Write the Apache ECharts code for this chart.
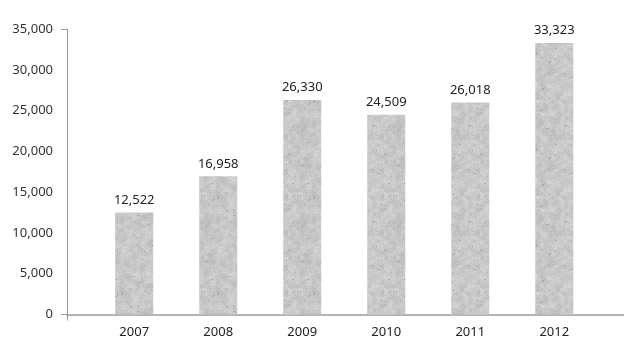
<!DOCTYPE html>
<html>
<head>
<meta charset="utf-8">
<script src="https://cdn.jsdelivr.net/npm/echarts@6/dist/echarts.min.js"></script>
<style>
  html, body { margin: 0; padding: 0; background: #fff; }
  #chart { width: 624px; height: 342px; }
</style>
</head>
<body>
<div id="chart"></div>
<script>
// Yearly totals
const years = ['2007', '2008', '2009', '2010', '2011', '2012'];
const totals = [12522, 16958, 26330, 24509, 26018, 33323];
const yTicks = [0, 5000, 10000, 15000, 20000, 25000, 30000, 35000];

// Stone-like gray fill for the columns, built from a seeded generator
function concreteTexture() {
  let seed = 20071;
  const rnd = () => { seed = (seed * 1103515245 + 12345) & 0x7fffffff; return seed / 0x7fffffff; };

  // coarse mottling, scaled up smoothly
  const small = document.createElement('canvas');
  small.width = 24; small.height = 24;
  const sctx = small.getContext('2d');
  const simg = sctx.createImageData(24, 24);
  for (let i = 0; i < 24 * 24; i++) {
    const v = 200 + (rnd() - 0.5) * 22;
    simg.data[i * 4] = v; simg.data[i * 4 + 1] = v; simg.data[i * 4 + 2] = v; simg.data[i * 4 + 3] = 255;
  }
  sctx.putImageData(simg, 0, 0);

  const size = 96;
  const c = document.createElement('canvas');
  c.width = size; c.height = size;
  const ctx = c.getContext('2d');
  ctx.imageSmoothingEnabled = true;
  ctx.drawImage(small, 0, 0, size, size);

  // fine grain on top
  const img = ctx.getImageData(0, 0, size, size);
  for (let i = 0; i < size * size; i++) {
    let d = (rnd() - 0.5) * 16;
    if (rnd() < 0.004) d -= 55;
    for (let ch = 0; ch < 3; ch++) {
      img.data[i * 4 + ch] = Math.max(70, Math.min(235, img.data[i * 4 + ch] + d));
    }
  }
  ctx.putImageData(img, 0, 0);

  // faint scratches
  ctx.lineWidth = 0.7;
  for (let k = 0; k < 8; k++) {
    ctx.strokeStyle = 'rgba(130,130,130,' + (0.12 + rnd() * 0.15) + ')';
    ctx.beginPath();
    const x = rnd() * size, y = rnd() * size;
    ctx.moveTo(x, y);
    ctx.lineTo(x + (rnd() - 0.5) * 50, y + (rnd() - 0.5) * 30);
    ctx.stroke();
  }
  return c;
}

const chart = echarts.init(document.getElementById('chart'), null, { renderer: 'canvas' });
const fontFamily = '"Noto Sans", "Liberation Sans", sans-serif';
const fmt = v => Number(v).toLocaleString('en-US');

chart.setOption({
  animation: false,
  backgroundColor: '#fff',
  grid: { left: 67, right: 0, top: 29.3, bottom: 27.5 },
  xAxis: {
    type: 'value',
    min: -0.8,
    max: 5.83,
    splitLine: { show: false },
    axisLine: { show: true, onZero: false, lineStyle: { color: '#b3b3b3', width: 2 } },
    axisTick: { show: true, customValues: [-0.8], length: 6, lineStyle: { color: '#999', width: 1 } },
    axisLabel: {
      customValues: years.map((_, i) => i),
      formatter: v => years[Math.round(v)],
      color: '#222', fontSize: 13, fontFamily, margin: 11
    }
  },
  yAxis: {
    type: 'value',
    min: 0,
    max: 35000,
    interval: 5000,
    splitLine: { show: false },
    axisLine: { show: true, onZero: false, lineStyle: { color: '#999', width: 1 } },
    axisTick: { show: true, customValues: [0, 35000], length: 6, lineStyle: { color: '#999', width: 1 } },
    axisLabel: {
      customValues: yTicks,
      formatter: fmt,
      color: '#333', fontSize: 13, fontFamily, margin: 14
    }
  },
  series: [{
    type: 'bar',
    barWidth: 38,
    data: totals.map((v, i) => [i, v]),
    itemStyle: { color: { image: concreteTexture(), repeat: 'repeat' } },
    label: {
      show: true, position: 'top', distance: 6,
      formatter: p => fmt(p.value[1]),
      color: '#222', fontSize: 13, fontFamily
    }
  }]
});
</script>
</body>
</html>
